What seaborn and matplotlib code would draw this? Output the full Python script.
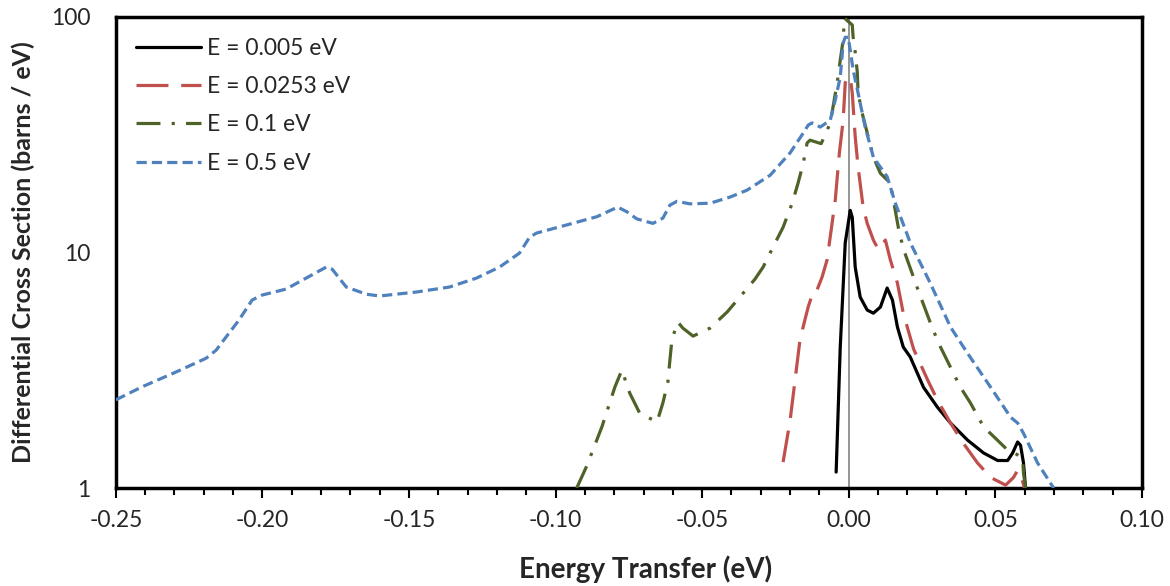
import matplotlib
matplotlib.use("Agg")
import matplotlib.pyplot as plt
import seaborn as sns
import numpy as np
from matplotlib.ticker import FixedLocator, MultipleLocator, FuncFormatter, NullLocator

# ---- data ----
labels = ["E = 0.005 eV", "E = 0.0253 eV", "E = 0.1 eV", "E = 0.5 eV"]
colors = ["#000000", "#C0504D", "#4F6228", "#4F81BD"]

x_005 = [-0.0043, -0.0029, -0.0012, 0.0005, 0.0012, 0.0022, 0.0039, 0.0063, 0.0084,
         0.0108, 0.0131, 0.0149, 0.0166, 0.0186, 0.021, 0.0255, 0.0302, 0.0347,
         0.0405, 0.046, 0.0508, 0.0542, 0.0559, 0.0576, 0.0586, 0.0596, 0.0603]
y_005 = [1.17, 3.97, 11.0, 15.1, 14.1, 8.68, 6.47, 5.7, 5.53,
         5.87, 7.07, 6.29, 4.83, 3.97, 3.6, 2.68, 2.21, 1.89,
         1.6, 1.41, 1.31, 1.31, 1.41, 1.57, 1.52, 1.28, 1.0]

x_0253 = [-0.0224, -0.02, -0.0166, -0.0138, -0.0125, -0.0115, -0.0091, -0.0074, -0.0046,
          -0.0032, -0.0019, -0.0012, -0.0005, 0.0005, 0.0012, 0.0022, 0.0032, 0.0049,
          0.0063, 0.0084, 0.0101, 0.0125, 0.0142, 0.0166, 0.0186, 0.0221, 0.0269,
          0.0302, 0.0347, 0.0391, 0.0439, 0.0484, 0.0535, 0.0562, 0.0576, 0.0586, 0.060]
y_0253 = [1.29, 1.94, 4.3, 5.9, 6.6, 6.6, 7.87, 9.3, 16.7,
          26.5, 36.5, 52.5, 55.0, 55.6, 47.5, 31.0, 23.0, 15.6,
          13.3, 11.3, 10.3, 11.3, 9.3, 7.42, 5.53, 3.9, 2.88,
          2.37, 1.89, 1.55, 1.28, 1.11, 1.03, 1.11, 1.19, 1.14, 1.0]

x_01 = [-0.0928, -0.0894, -0.0842, -0.0798, -0.0774, -0.0747, -0.0713, -0.0654, -0.0634,
        -0.0617, -0.061, -0.0603, -0.0583, -0.0566, -0.0531, -0.0473, -0.0415, -0.036,
        -0.032, -0.0292, -0.0251, -0.0224, -0.0193, -0.0173, -0.0155, -0.0142, -0.0132,
        -0.0094, -0.0063, -0.0039, -0.0029, -0.0019, -0.0015, 0.0012, 0.0015, 0.0022,
        0.0029, 0.0032, 0.0046, 0.0063, 0.0084, 0.0108, 0.0142, 0.0169, 0.0186, 0.0234,
        0.0285, 0.0313, 0.0347, 0.0381, 0.0415, 0.046, 0.050, 0.0542, 0.0562, 0.0593,
        0.0596, 0.0603]
y_01 = [1.0, 1.24, 1.82, 2.68, 3.17, 2.53, 2.08, 1.91, 2.30,
        2.82, 3.5, 4.29, 5.07, 4.78, 4.42, 4.78, 5.59, 6.73,
        7.71, 8.68, 11.0, 12.8, 16.2, 19.7, 24.0, 29.2, 30.0,
        29.0, 35.5, 53.0, 65.6, 80.0, 99.0, 92.5, 82.0, 71.0,
        58.5, 47.5, 39.0, 32.2, 25.4, 21.7, 19.7, 12.8, 10.4, 7.07,
        4.78, 3.97, 3.26, 2.68, 2.3, 1.82, 1.63, 1.45, 1.42, 1.34,
        1.16, 1.0]

x_05 = [-0.25, -0.2411, -0.2295, -0.2192, -0.2158, -0.2124, -0.208, -0.2035, -0.2001,
        -0.1919, -0.1851, -0.1782, -0.1762, -0.1714, -0.1646, -0.1601, -0.1475, -0.1362,
        -0.127, -0.1191, -0.1123, -0.1089, -0.1065, -0.0962, -0.0859, -0.0788, -0.0757,
        -0.0723, -0.0668, -0.0634, -0.061, -0.0586, -0.0542, -0.0473, -0.0405, -0.0347,
        -0.0268, -0.02, -0.0155, -0.0138, -0.0125, -0.0097, -0.0063, -0.0046, -0.0029,
        -0.0019, -0.0012, -0.0002, 0.0005, 0.0015, 0.0032, 0.0056, 0.0084, 0.0131,
        0.0159, 0.021, 0.0278, 0.0347, 0.0405, 0.0484, 0.0552, 0.0576, 0.0596, 0.0644,
        0.0699]
y_05 = [2.37, 2.69, 3.11, 3.56, 3.85, 4.38, 5.17, 6.29, 6.6,
        7.0, 7.79, 8.68, 8.5, 7.14, 6.66, 6.54, 6.8, 7.14,
        7.79, 8.68, 9.95, 11.6, 12.1, 13.1, 14.2, 15.6, 14.9,
        13.9, 13.3, 14.0, 15.9, 16.5, 16.1, 16.2, 17.2, 18.4,
        21.3, 26.5, 32.2, 34.8, 35.5, 34.1, 36.5, 44.4, 55.6,
        77.6, 82.0, 82.0, 72.4, 59.6, 47.5, 34.1, 25.4, 21.0,
        16.2, 11.0, 7.42, 4.83, 3.74, 2.68, 2.0, 1.89, 1.71, 1.28,
        1.0]

series_x = [x_005, x_0253, x_01, x_05]
series_y = [y_005, y_0253, y_01, y_05]
dash_patterns = [None, (10, 4), (7.5, 3.5, 1, 3.5), (3.2, 1.6)]

x_ticks = [-0.25, -0.20, -0.15, -0.10, -0.05, 0.00, 0.05, 0.10]
y_ticks = [1, 10, 100]

# ---- figure ----
sns.set_theme(style="white")
plt.rcParams["font.family"] = ["Lato", "DejaVu Sans"]

fig = plt.figure(figsize=(11.7, 5.86), dpi=100)
ax = fig.add_axes([0.099, 0.167, 0.877, 0.804])

ax.axvline(0.0, color="#8c8c8c", lw=1.3, zorder=1)

for xs, ys, lab, col, dp in zip(series_x, series_y, labels, colors, dash_patterns):
    sns.lineplot(x=xs, y=ys, ax=ax, color=col, lw=2.3, label=lab,
                 sort=False, estimator=None, zorder=3)
    line = ax.get_lines()[-1]
    line.set_solid_joinstyle("round")
    if dp is not None:
        line.set_dashes(dp)

ax.set_yscale("log")
ax.set_xlim(-0.25, 0.10)
ax.set_ylim(1, 100)

ax.xaxis.set_major_locator(FixedLocator(x_ticks))
ax.xaxis.set_minor_locator(MultipleLocator(0.01))
ax.xaxis.set_major_formatter(FuncFormatter(lambda v, p: f"{v:.2f}"))
ax.yaxis.set_major_locator(FixedLocator(y_ticks))
ax.yaxis.set_minor_locator(NullLocator())
ax.yaxis.set_major_formatter(FuncFormatter(lambda v, p: f"{v:g}"))

ax.tick_params(axis="x", which="major", direction="out", length=7, width=1.5,
               color="black", labelsize=16.5, pad=9, bottom=True)
ax.tick_params(axis="x", which="minor", direction="out", length=5, width=1.5,
               color="black", bottom=True)
ax.tick_params(axis="y", which="both", length=0, labelsize=16.5, pad=18)

for s in ax.spines.values():
    s.set_visible(True)
    s.set_color("black")
    s.set_linewidth(2.5)

ax.set_xlabel("Energy Transfer (eV)", fontsize=20, fontweight="bold")
ax.set_ylabel("Differential Cross Section (barns / eV)", fontsize=18,
              fontweight="bold")
ax.xaxis.set_label_coords(0.516, -0.142)
ax.yaxis.set_label_coords(-0.079, 0.5)
ax.grid(False)

leg = ax.legend(loc="upper left", frameon=False, fontsize=16.5, handlelength=2.8,
                handletextpad=0.3, labelspacing=0.76, borderaxespad=0.4,
                borderpad=0.5)
for h, dp in zip(leg.get_lines(), dash_patterns):
    h.set_linewidth(2.3)
    if dp is not None:
        h.set_dashes(dp)

fig.savefig("out.png", dpi=100, facecolor="white")
